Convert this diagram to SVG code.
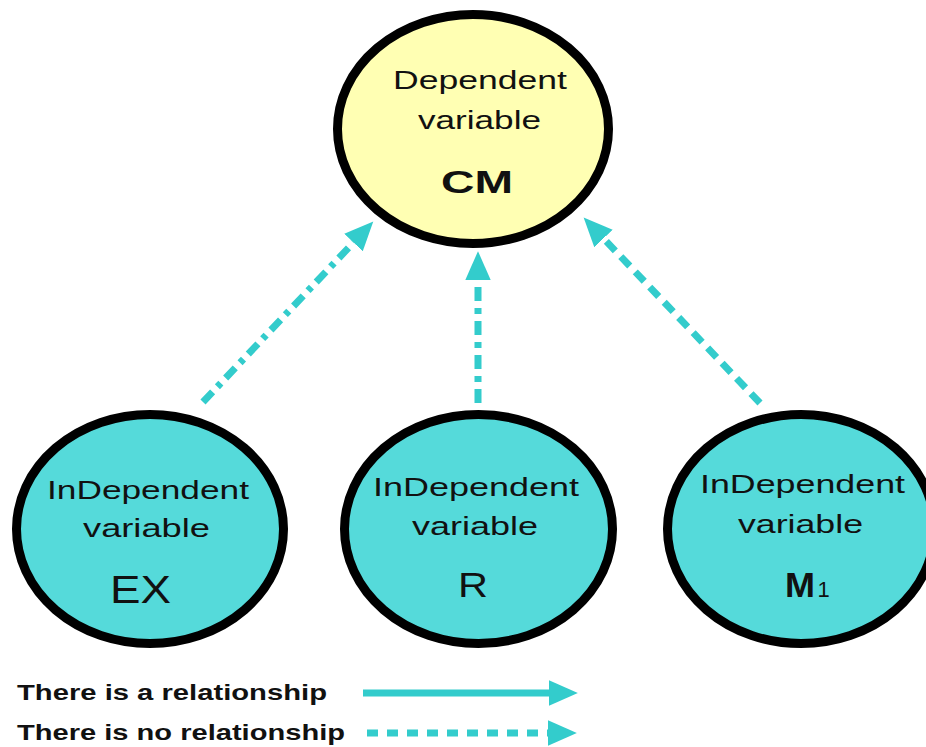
<svg xmlns="http://www.w3.org/2000/svg" width="926" height="747" viewBox="0 0 926 747">
<style>
.dep{fill:#FFFFB3;stroke:#000;stroke-width:9}
.ind{fill:#55DADA;stroke:#000;stroke-width:9}
.t{font-family:"Liberation Sans",Arial,sans-serif;fill:#111;text-anchor:middle}
.lbl{font-size:26px}
.big{font-size:36px}
.b{font-weight:bold}
.lg{font-family:"Liberation Sans",Arial,sans-serif;font-size:22px;font-weight:bold;fill:#111}
.conn{fill:none;stroke:#33CCCC;stroke-width:7}
</style>
<defs>
<marker id="ah" markerUnits="userSpaceOnUse" markerWidth="30" markerHeight="30" viewBox="0 -12 26 24" refX="0" refY="0" orient="auto">
<path d="M0,-11 L25,0 L0,11 Z" fill="#33CCCC"/>
</marker>
</defs>
<g id="connectors">
<path class="conn" d="M203,402 L353.5,242.5" stroke-dasharray="14 7 5 7" marker-end="url(#ah)"/>
<path class="conn" d="M478,403 L478,280" stroke-dasharray="14 7 6 7" marker-end="url(#ah)"/>
<path class="conn" d="M760,403 L603.5,238.4" stroke-dasharray="13 8" marker-end="url(#ah)"/>
</g>
<g id="node-CM">
<ellipse class="dep" cx="473" cy="129" rx="135.5" ry="114.5"/>
<text class="t lbl" x="480" y="89" textLength="174" lengthAdjust="spacingAndGlyphs">Dependent</text>
<text class="t lbl" x="479.5" y="129" textLength="123" lengthAdjust="spacingAndGlyphs">variable</text>
<text class="t b" x="477" y="193" font-size="31" textLength="72" lengthAdjust="spacingAndGlyphs">CM</text>
</g>
<g id="node-EX">
<ellipse class="ind" cx="150" cy="529" rx="133.5" ry="114.5"/>
<text class="t lbl" x="148" y="499" textLength="202" lengthAdjust="spacingAndGlyphs">InDependent</text>
<text class="t lbl" x="146.5" y="537" textLength="127" lengthAdjust="spacingAndGlyphs">variable</text>
<text class="t" x="140.5" y="603" font-size="38" textLength="61" lengthAdjust="spacingAndGlyphs">EX</text>
</g>
<g id="node-R">
<ellipse class="ind" cx="478.5" cy="529" rx="134" ry="114.5"/>
<text class="t lbl" x="476" y="496" textLength="206" lengthAdjust="spacingAndGlyphs">InDependent</text>
<text class="t lbl" x="475" y="535" textLength="126" lengthAdjust="spacingAndGlyphs">variable</text>
<text class="t" x="473" y="597" font-size="35" textLength="30" lengthAdjust="spacingAndGlyphs">R</text>
</g>
<g id="node-M1">
<ellipse class="ind" cx="801" cy="529" rx="133.5" ry="114.5"/>
<text class="t lbl" x="802.5" y="493" textLength="205" lengthAdjust="spacingAndGlyphs">InDependent</text>
<text class="t lbl" x="800.5" y="533" textLength="125" lengthAdjust="spacingAndGlyphs">variable</text>
<text class="t b" x="800" y="597" font-size="35" textLength="30" lengthAdjust="spacingAndGlyphs">M</text>
<text class="t" x="823.5" y="597" font-size="22">1</text>
</g>
<g id="legend">
<text class="lg" x="17" y="700" textLength="310" lengthAdjust="spacingAndGlyphs">There is a relationship</text>
<text class="lg" x="17" y="740" textLength="328" lengthAdjust="spacingAndGlyphs">There is no relationship</text>
<path class="conn" d="M363,693 L549,693" stroke-width="8" marker-end="url(#ah)"/>
<path class="conn" d="M367,733 L548,733" stroke-dasharray="11 9" marker-end="url(#ah)"/>
</g>
</svg>
